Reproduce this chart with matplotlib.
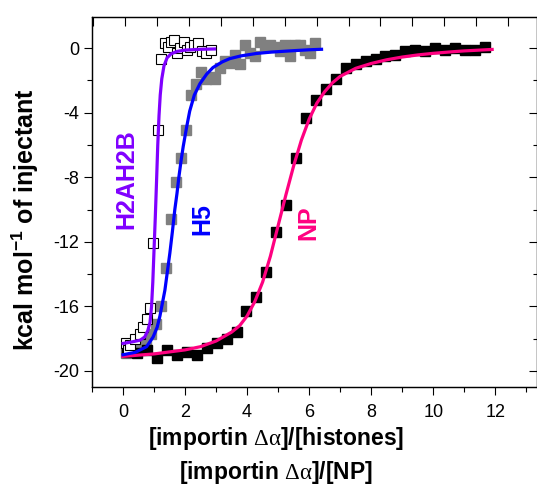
import numpy as np
import matplotlib.pyplot as plt
from matplotlib.ticker import MultipleLocator, NullFormatter

plt.rcParams['font.family'] = ['Liberation Sans', 'DejaVu Sans']
plt.rcParams['axes.unicode_minus'] = False
plt.rcParams['mathtext.fontset'] = 'custom'
plt.rcParams['mathtext.rm'] = 'Liberation Serif'
plt.rcParams['mathtext.bf'] = 'Liberation Sans:bold'

# NP titration (black squares)
np_x = [0.14, 0.46, 0.78, 1.10, 1.42, 1.74, 2.06, 2.38, 2.70, 3.02, 3.34, 3.66,
        3.98, 4.30, 4.62, 4.94, 5.26, 5.58, 5.90, 6.22, 6.54, 6.86, 7.18, 7.50,
        7.82, 8.14, 8.46, 8.78, 9.10, 9.42, 9.74, 10.06, 10.38, 10.70, 11.02,
        11.34, 11.66]
np_y = [-18.8, -18.9, -18.7, -19.2, -18.7, -19.0, -18.8, -19.0, -18.6, -18.3,
        -18.0, -17.6, -16.3, -15.4, -13.9, -11.4, -9.7, -6.8, -4.3, -3.2, -2.5,
        -1.9, -1.2, -1.0, -0.8, -0.65, -0.5, -0.4, -0.15, -0.1, -0.2, 0.0, -0.1,
        0.0, -0.1, -0.1, 0.1]

# H5 titration (grey squares)
h5_x = [0.10, 0.26, 0.42, 0.58, 0.74, 0.90, 1.06, 1.22, 1.38, 1.54, 1.70, 1.86,
        2.02, 2.18, 2.34, 2.50, 2.66, 2.82, 2.98, 3.14, 3.30, 3.46, 3.62, 3.78,
        3.94, 4.10, 4.26, 4.42, 4.58, 4.74, 4.90, 5.06, 5.22, 5.38, 5.54, 5.70,
        5.86, 6.02, 6.18]
h5_y = [-18.9, -18.8, -18.7, -18.4, -18.1, -17.7, -17.1, -16.0, -13.6, -10.6,
        -8.3, -6.8, -5.1, -2.9, -2.2, -1.5, -1.9, -1.8, -1.9, -1.2, -0.8, -0.9,
        -0.4, -1.0, 0.2, -0.3, -0.5, 0.4, 0.1, 0.2, 0.1, -0.2, 0.2, -0.5, 0.2,
        0.2, -0.1, -0.3, 0.3]

# H2AH2B titration (open squares)
h2_x = [0.10, 0.15, 0.22, 0.39, 0.55, 0.65, 0.76, 0.87, 0.97, 1.14, 1.24, 1.35,
        1.45, 1.55, 1.65, 1.75, 1.85, 1.95, 2.05, 2.15, 2.30, 2.42, 2.55, 2.69,
        2.85]
h2_y = [-18.3, -18.7, -18.4, -18.0, -17.7, -17.3, -16.8, -16.1, -12.1, -5.1,
        -0.7, 0.3, 0.1, 0.4, 0.5, -0.3, 0.0, 0.4, -0.1, 0.1, 0.2, 0.3, -0.2,
        -0.3, -0.1]

# fitted curves
np_fit_x = [0.0, 1.0, 2.0, 2.5, 3.0, 3.5, 3.76, 4.0, 4.25, 4.5, 4.75, 5.0, 5.25,
            5.5, 5.75, 6.0, 6.25, 6.5, 6.75, 7.0, 7.5, 8.0, 8.5, 9.0, 9.5, 10.0,
            10.5, 11.0, 11.5, 11.9]
np_fit_y = [-19.1, -18.95, -18.7, -18.5, -18.15, -17.6, -17.2, -16.6, -15.7,
            -14.5, -12.9, -11.0, -9.1, -7.3, -5.7, -4.4, -3.4, -2.7, -2.15,
            -1.75, -1.25, -0.95, -0.72, -0.55, -0.42, -0.32, -0.24, -0.17,
            -0.12, -0.08]

h5_fit_x = [0.0, 0.4, 0.76, 0.97, 1.10, 1.19, 1.35, 1.51, 1.59, 1.67, 1.74,
            1.80, 1.87, 1.94, 2.05, 2.15, 2.30, 2.48, 2.70, 2.90, 3.20, 3.44,
            3.80, 4.30, 4.80, 5.37, 6.00, 6.40]
h5_fit_y = [-19.0, -18.85, -18.5, -17.9, -17.3, -16.6, -15.0, -12.7, -11.4,
            -10.0, -9.0, -8.0, -7.0, -6.1, -4.9, -3.9, -2.9, -2.2, -1.6, -1.2,
            -0.85, -0.65, -0.48, -0.33, -0.24, -0.17, -0.10, -0.07]

h2_fit_x = [0.0, 0.3, 0.55, 0.70, 0.80, 0.87, 0.92, 0.96, 1.00, 1.04, 1.08,
            1.12, 1.16, 1.20, 1.25, 1.32, 1.42, 1.55, 1.75, 2.0, 2.5, 2.95]
h2_fit_y = [-18.3, -18.2, -18.1, -17.9, -17.5, -17.0, -16.0, -14.5, -12.5,
            -10.5, -8.3, -6.0, -4.2, -2.9, -1.9, -1.1, -0.6, -0.35, -0.2, -0.12,
            -0.07, -0.05]

purple = '#8000ff'
blue = '#0000ff'
pink = '#ff0080'

fig = plt.figure(figsize=(5.37, 4.91), dpi=100)
ax = fig.add_axes([92/537, 1-387/491, (536.5-92)/537, (387-16.7)/491])

ax.plot(h5_x, h5_y, 's', color='#808080', ms=7.2, mec='#808080', zorder=2)
ax.plot(np_x, np_y, 's', color='black', ms=7.6, zorder=2)
ax.plot(h2_x, h2_y, 's', mfc='white', mec='black', mew=0.8, ms=7.0, zorder=3)

ax.plot(np_fit_x, np_fit_y, '-', color=pink, lw=2.3, zorder=4)
ax.plot(h5_fit_x, h5_fit_y, '-', color=blue, lw=2.3, zorder=4)
ax.plot(h2_fit_x, h2_fit_y, '-', color=purple, lw=2.3, zorder=5)

ax.text(0.1, -8.1, 'H2AH2B', color=purple, rotation=90, fontsize=18,
        fontweight='bold', ha='center', va='center')
ax.text(2.55, -10.6, 'H5', color=blue, rotation=90, fontsize=18,
        fontweight='bold', ha='center', va='center')
ax.text(5.97, -10.8, 'NP', color=pink, rotation=90, fontsize=18,
        fontweight='bold', ha='center', va='center')

ax.set_xlim(-1.0, 13.33)
ax.set_ylim(-21.0, 1.95)
ax.xaxis.set_major_locator(MultipleLocator(2))
ax.xaxis.set_minor_locator(MultipleLocator(1))
ax.yaxis.set_major_locator(MultipleLocator(4))
ax.yaxis.set_minor_locator(MultipleLocator(2))
ax.tick_params(which='major', direction='out', length=6, width=0.8,
               labelsize=13, pad=3)
ax.tick_params(axis='x', which='major', pad=6)
ax.tick_params(which='minor', direction='out', length=3.5, width=0.8)
for s in ax.spines.values():
    s.set_linewidth(0.9)

# top axis (inward ticks, own scale)
axt = ax.twiny()
axt.set_xlim(-1.04, 12.89)
axt.xaxis.set_major_locator(MultipleLocator(1))
axt.xaxis.set_major_formatter(NullFormatter())
axt.tick_params(axis='x', direction='in', length=6.5, width=0.8)

# right axis (inward ticks)
axr = ax.twinx()
axr.set_ylim(ax.get_ylim())
axr.yaxis.set_major_locator(MultipleLocator(4))
axr.yaxis.set_minor_locator(MultipleLocator(2))
axr.yaxis.set_major_formatter(NullFormatter())
axr.tick_params(axis='y', which='major', direction='in', length=6, width=0.8)
axr.tick_params(axis='y', which='minor', direction='in', length=3, width=0.8)

fig.text(276/537, 1-439/491, '[importin $\\mathrm{\\Delta\\alpha}$]/[histones]',
         fontsize=16.5, fontweight='bold', ha='center', va='center')
fig.text(276/537, 1-472/491, '[importin $\\mathrm{\\Delta\\alpha}$]/[NP]',
         fontsize=16.5, fontweight='bold', ha='center', va='center')
fig.text(25/537, 1-220/491, 'kcal mol$^{\\mathbf{-1}}$ of injectant',
         fontsize=18, fontweight='bold', rotation=90, ha='center',
         va='center')

fig.savefig('out.png', dpi=100)
